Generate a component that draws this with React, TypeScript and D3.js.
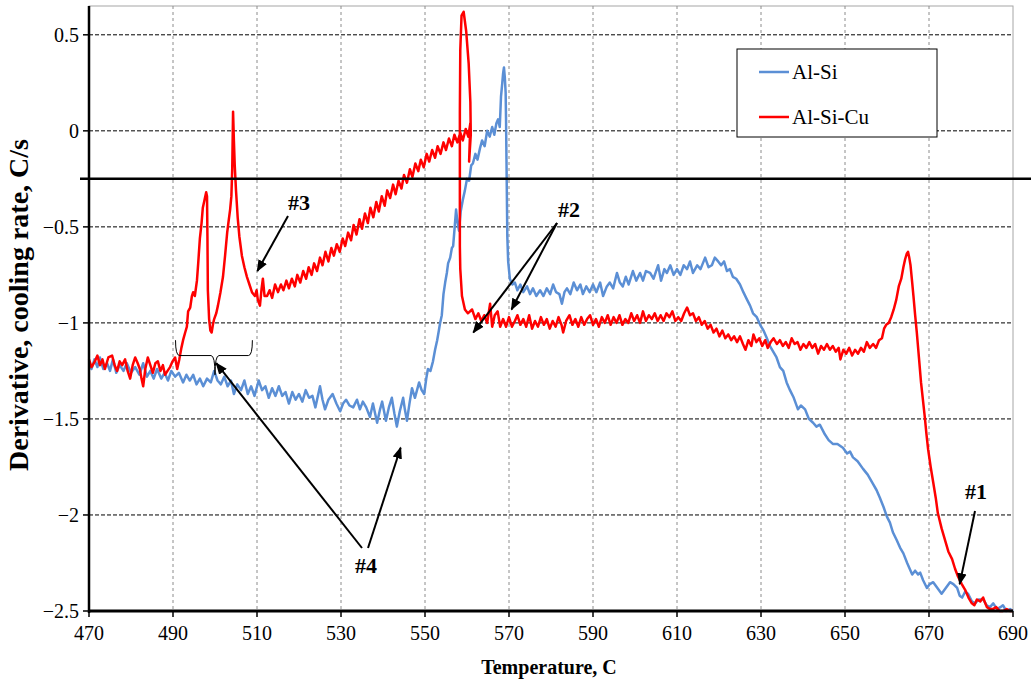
import React, { useEffect, useRef } from 'react';
import * as d3 from 'd3';

// Al-Si cooling curve derivative: [temperature C, rate C/s]
const alSi: [number, number][] = [
  [470.0,-1.21],[470.6,-1.24],[471.3,-1.19],[472.0,-1.23],[472.6,-1.18],[473.4,-1.24],[474.3,-1.21],[475.0,-1.25],[475.7,-1.19],[476.5,-1.26],
  [477.3,-1.22],[478.2,-1.25],[479.0,-1.21],[480.0,-1.26],[481.0,-1.23],[482.0,-1.27],[482.9,-1.21],[483.8,-1.28],[484.6,-1.25],[485.4,-1.29],
  [486.2,-1.24],[487.2,-1.29],[488.0,-1.26],[488.8,-1.30],[489.6,-1.25],[490.5,-1.28],[491.4,-1.26],[492.4,-1.31],[493.2,-1.27],[494.0,-1.30],
  [494.8,-1.27],[495.6,-1.32],[496.4,-1.29],[497.2,-1.33],[498.1,-1.29],[499.0,-1.31],[499.8,-1.25],[500.6,-1.30],[501.4,-1.32],[502.2,-1.28],
  [503.0,-1.33],[503.8,-1.30],[504.5,-1.37],[505.3,-1.32],[506.2,-1.35],[507.0,-1.30],[507.8,-1.37],[508.6,-1.33],[509.4,-1.38],[510.4,-1.30],
  [511.2,-1.35],[512.0,-1.33],[512.8,-1.39],[513.6,-1.34],[514.4,-1.38],[515.2,-1.33],[516.0,-1.38],[516.8,-1.36],[517.6,-1.42],[518.4,-1.36],
  [519.2,-1.40],[520.0,-1.37],[520.8,-1.41],[521.6,-1.35],[522.4,-1.39],[523.2,-1.38],[523.9,-1.44],[524.5,-1.38],[525.0,-1.33],[525.6,-1.40],
  [526.2,-1.45],[527.0,-1.40],[528.0,-1.37],[528.9,-1.42],[529.8,-1.46],[530.5,-1.42],[531.2,-1.40],[532.0,-1.43],[532.9,-1.44],[533.8,-1.40],
  [534.5,-1.45],[535.2,-1.41],[536.0,-1.44],[536.9,-1.49],[537.6,-1.42],[538.6,-1.52],[539.3,-1.45],[539.8,-1.41],[540.7,-1.51],[541.4,-1.44],
  [542.1,-1.39],[542.7,-1.47],[543.3,-1.54],[544.0,-1.46],[544.8,-1.39],[545.2,-1.45],[545.7,-1.51],[546.3,-1.42],[546.9,-1.34],[547.6,-1.39],
  [548.6,-1.31],[549.2,-1.35],[549.8,-1.37],[550.3,-1.29],[550.7,-1.24],[551.3,-1.25],[551.9,-1.20],[552.4,-1.14],[552.9,-1.09],[553.3,-1.04],
  [553.6,-1.00],[554.0,-0.96],[554.4,-0.85],[554.8,-0.79],[555.2,-0.74],[555.5,-0.69],[556.0,-0.66],[556.4,-0.61],[556.7,-0.60],[557.0,-0.52],
  [557.4,-0.41],[557.7,-0.47],[558.1,-0.52],[558.5,-0.42],[559.0,-0.36],[559.5,-0.31],[560.0,-0.25],[560.5,-0.26],[561.0,-0.18],[561.4,-0.17],
  [562.0,-0.12],[562.5,-0.15],[563.1,-0.09],[563.6,-0.05],[564.2,-0.08],[564.8,0.00],[565.4,-0.03],[566.0,0.02],[566.5,-0.02],[567.0,0.04],
  [567.4,0.06],[567.8,0.02],[568.1,0.18],[568.4,0.25],[568.6,0.30],[568.8,0.33],[569.0,0.28],[569.2,0.20],[569.3,0.05],[569.4,-0.15],
  [569.5,-0.35],[569.6,-0.55],[569.8,-0.68],[570.2,-0.77],[570.8,-0.80],[571.4,-0.79],[572.0,-0.83],[572.7,-0.80],[573.4,-0.84],[574.3,-0.81],
  [575.0,-0.85],[575.7,-0.82],[576.5,-0.86],[577.4,-0.83],[578.2,-0.86],[579.0,-0.82],[579.8,-0.85],[580.5,-0.80],[581.2,-0.84],[582.0,-0.85],
  [582.6,-0.90],[583.2,-0.84],[583.8,-0.82],[584.6,-0.85],[585.4,-0.79],[586.2,-0.83],[587.0,-0.80],[587.6,-0.85],[588.4,-0.81],[589.2,-0.84],
  [590.0,-0.80],[590.8,-0.84],[591.7,-0.79],[592.4,-0.86],[593.3,-0.81],[594.0,-0.79],[594.8,-0.82],[595.7,-0.74],[596.4,-0.79],[597.1,-0.81],
  [597.8,-0.76],[598.5,-0.80],[599.5,-0.73],[600.3,-0.78],[601.2,-0.74],[601.9,-0.78],[602.6,-0.73],[603.6,-0.74],[604.4,-0.77],[605.5,-0.70],
  [606.2,-0.78],[607.0,-0.72],[607.6,-0.74],[608.4,-0.70],[609.2,-0.75],[610.0,-0.72],[610.8,-0.75],[611.6,-0.70],[612.4,-0.72],[613.1,-0.68],
  [613.8,-0.74],[614.8,-0.70],[615.6,-0.72],[616.7,-0.66],[617.5,-0.71],[618.3,-0.70],[619.0,-0.66],[619.8,-0.68],[620.5,-0.70],[621.2,-0.68],
  [621.9,-0.73],[622.6,-0.72],[623.3,-0.76],[624.1,-0.77],[625.0,-0.80],[625.8,-0.84],[626.7,-0.88],[627.4,-0.91],[628.1,-0.95],[629.0,-0.97],
  [629.8,-1.01],[630.6,-1.04],[631.4,-1.08],[632.1,-1.12],[632.9,-1.15],[633.7,-1.18],[634.5,-1.23],[635.3,-1.25],[636.1,-1.31],[636.9,-1.35],
  [637.8,-1.39],[638.8,-1.45],[639.5,-1.43],[640.5,-1.45],[641.4,-1.50],[642.4,-1.52],[643.2,-1.54],[644.0,-1.53],[645.2,-1.58],[646.1,-1.61],
  [647.1,-1.63],[648.2,-1.63],[649.5,-1.65],[650.5,-1.68],[651.2,-1.67],[651.9,-1.70],[653.0,-1.72],[654.3,-1.76],[655.4,-1.79],[656.7,-1.84],
  [657.5,-1.87],[658.3,-1.91],[659.2,-1.96],[660.0,-2.01],[660.7,-2.04],[661.4,-2.09],[662.3,-2.13],[663.1,-2.17],[663.9,-2.20],[664.8,-2.25],
  [665.4,-2.28],[666.0,-2.31],[666.7,-2.29],[667.4,-2.31],[667.9,-2.30],[668.6,-2.34],[669.5,-2.38],[670.2,-2.36],[671.0,-2.35],[672.0,-2.38],
  [673.0,-2.41],[674.0,-2.38],[675.0,-2.35],[675.8,-2.36],[676.7,-2.38],[677.3,-2.42],[677.9,-2.43],[678.6,-2.40],[679.3,-2.41],[680.2,-2.45],
  [681.0,-2.46],[681.8,-2.44],[682.9,-2.44],[683.7,-2.47],[684.5,-2.48],[685.3,-2.46],[686.2,-2.49],[687.0,-2.48],[687.6,-2.47],[688.4,-2.50],
  [689.3,-2.49],[690.0,-2.50],
];

// Al-Si-Cu: listed along the curve (the recalescence spike near 559 C folds back)
const alSiCu: [number, number][] = [
  [470.0,-1.19],[470.6,-1.23],[471.4,-1.20],[472.0,-1.17],[472.6,-1.22],[473.2,-1.19],[473.8,-1.24],[474.6,-1.18],[475.5,-1.17],[476.1,-1.22],
  [476.7,-1.25],[477.3,-1.20],[477.9,-1.22],[478.6,-1.19],[479.2,-1.25],[479.8,-1.29],[480.4,-1.22],[481.0,-1.18],[481.6,-1.21],[482.1,-1.24],
  [482.5,-1.29],[482.9,-1.33],[483.4,-1.24],[484.0,-1.18],[484.6,-1.22],[485.2,-1.26],[485.8,-1.21],[486.4,-1.20],[487.0,-1.25],[487.6,-1.22],
  [488.1,-1.27],[488.7,-1.25],[489.3,-1.23],[489.9,-1.20],[490.5,-1.18],[491.0,-1.24],[491.5,-1.19],[492.0,-1.13],[492.4,-1.09],[492.9,-1.05],
  [493.3,-1.02],[493.6,-0.94],[494.1,-0.92],[494.5,-0.86],[494.8,-0.84],[495.2,-0.86],[495.7,-0.78],[496.0,-0.69],[496.4,-0.56],[496.8,-0.48],
  [497.1,-0.40],[497.5,-0.36],[497.9,-0.32],[498.1,-0.34],[498.2,-0.55],[498.3,-0.83],[498.6,-0.98],[498.9,-1.04],[499.2,-1.05],[499.5,-1.01],
  [499.8,-0.98],[500.3,-0.95],[500.7,-0.91],[501.3,-0.84],[501.9,-0.76],[502.4,-0.65],[502.9,-0.53],[503.3,-0.46],[503.6,-0.41],[503.9,-0.34],
  [504.1,-0.20],[504.2,-0.05],[504.3,0.10],[504.5,-0.05],[504.7,-0.18],[505.0,-0.31],[505.4,-0.45],[505.8,-0.55],[506.4,-0.65],[507.0,-0.71],
  [507.6,-0.76],[508.2,-0.80],[508.8,-0.84],[509.5,-0.86],[509.9,-0.83],[510.2,-0.88],[510.7,-0.91],[511.1,-0.82],[511.4,-0.77],[511.8,-0.86],
  [512.4,-0.86],[513.0,-0.83],[513.6,-0.87],[514.3,-0.80],[515.0,-0.84],[515.7,-0.80],[516.3,-0.83],[517.0,-0.78],[517.6,-0.82],[518.3,-0.77],
  [519.0,-0.81],[519.6,-0.75],[520.3,-0.79],[521.0,-0.73],[521.7,-0.77],[522.3,-0.71],[523.0,-0.75],[523.6,-0.69],[524.3,-0.73],[525.0,-0.66],
  [525.6,-0.70],[526.3,-0.63],[527.0,-0.68],[527.7,-0.61],[528.3,-0.65],[529.0,-0.59],[529.7,-0.63],[530.4,-0.56],[531.0,-0.60],[531.7,-0.53],
  [532.4,-0.57],[533.0,-0.49],[533.7,-0.54],[534.4,-0.46],[535.0,-0.51],[535.7,-0.43],[536.4,-0.48],[537.0,-0.40],[537.7,-0.45],[538.4,-0.37],
  [539.0,-0.42],[539.7,-0.34],[540.4,-0.39],[541.0,-0.31],[541.7,-0.35],[542.4,-0.28],[543.0,-0.33],[543.7,-0.26],[544.4,-0.30],[545.0,-0.23],
  [545.7,-0.27],[546.4,-0.20],[547.0,-0.24],[547.7,-0.17],[548.4,-0.21],[549.0,-0.15],[549.7,-0.19],[550.4,-0.12],[551.0,-0.16],[551.7,-0.10],
  [552.4,-0.14],[553.0,-0.08],[553.7,-0.12],[554.4,-0.06],[555.0,-0.10],[555.7,-0.04],[556.4,-0.08],[557.0,-0.02],[557.7,-0.06],[558.4,-0.01],
  [559.0,-0.05],[559.7,0.01],[560.3,-0.03],[560.8,0.04],[560.5,-0.16],[560.9,-0.02],[560.8,0.15],[560.4,0.35],[559.8,0.52],[559.2,0.62],
  [558.7,0.60],[558.4,0.42],[558.3,0.10],[558.3,-0.30],[558.3,-0.60],[558.4,-0.72],[558.8,-0.86],[559.5,-0.93],[560.2,-0.95],[561.2,-0.93],
  [562.0,-0.98],[562.7,-0.95],[563.4,-0.99],[564.1,-0.96],[564.8,-1.00],[565.5,-0.90],[566.0,-1.02],[566.6,-0.96],[567.3,-0.94],[567.9,-1.02],
  [568.6,-0.98],[569.3,-1.02],[570.0,-0.97],[570.7,-1.02],[571.4,-0.99],[572.0,-0.96],[572.7,-1.01],[573.4,-0.98],[574.1,-1.02],[574.8,-0.96],
  [575.5,-1.03],[576.2,-0.99],[576.9,-1.02],[577.6,-0.97],[578.3,-1.01],[579.0,-0.98],[579.7,-1.03],[580.4,-0.99],[581.1,-1.02],[581.8,-0.97],
  [582.5,-1.01],[582.9,-1.05],[583.6,-0.99],[584.4,-0.96],[585.1,-1.01],[585.8,-0.98],[586.5,-1.02],[587.2,-0.97],[587.9,-1.01],[588.6,-0.98],
  [589.3,-0.96],[590.0,-1.01],[590.7,-0.98],[591.4,-1.02],[592.1,-0.97],[592.8,-1.00],[593.5,-0.96],[594.2,-1.01],[594.9,-0.97],[595.6,-1.00],
  [596.3,-0.96],[597.0,-1.01],[597.7,-0.98],[598.4,-1.00],[599.1,-0.95],[599.8,-0.99],[600.5,-0.96],[601.2,-1.00],[601.9,-0.94],[602.6,-0.99],
  [603.3,-0.96],[604.0,-0.98],[604.7,-0.95],[605.4,-0.99],[606.1,-0.96],[606.8,-0.99],[607.5,-0.95],[608.2,-0.97],[608.9,-0.94],[609.6,-0.99],
  [610.3,-0.97],[611.0,-0.99],[611.7,-0.95],[612.4,-0.92],[613.1,-0.96],[613.8,-0.95],[614.5,-0.99],[615.2,-0.97],[615.9,-1.01],[616.6,-0.99],
  [617.3,-1.03],[618.0,-1.01],[618.7,-1.05],[619.4,-1.03],[620.1,-1.07],[620.8,-1.04],[621.5,-1.08],[622.2,-1.06],[622.9,-1.09],[623.6,-1.07],
  [624.3,-1.10],[625.0,-1.07],[625.7,-1.11],[626.3,-1.14],[627.0,-1.09],[627.7,-1.12],[628.2,-1.06],[628.9,-1.10],[629.6,-1.08],[630.3,-1.12],
  [631.0,-1.09],[631.6,-1.13],[632.3,-1.10],[633.0,-1.08],[633.8,-1.11],[634.5,-1.09],[635.2,-1.12],[635.9,-1.10],[636.6,-1.13],[637.3,-1.08],
  [638.0,-1.11],[638.7,-1.10],[639.4,-1.14],[640.1,-1.11],[640.8,-1.13],[641.5,-1.10],[642.2,-1.13],[642.9,-1.11],[643.6,-1.16],[644.3,-1.12],
  [645.0,-1.14],[645.7,-1.11],[646.4,-1.14],[647.1,-1.12],[647.8,-1.15],[648.5,-1.13],[648.9,-1.19],[649.6,-1.14],[650.3,-1.16],[651.0,-1.13],
  [651.7,-1.17],[652.4,-1.14],[653.1,-1.16],[653.8,-1.13],[654.5,-1.15],[655.2,-1.10],[655.9,-1.13],[656.7,-1.11],[657.4,-1.13],[658.1,-1.09],
  [658.8,-1.08],[659.3,-1.03],[659.8,-1.01],[660.4,-1.00],[661.0,-0.97],[661.6,-0.93],[662.2,-0.88],[662.8,-0.81],[663.4,-0.77],[663.9,-0.71],
  [664.3,-0.67],[664.7,-0.64],[665.0,-0.63],[665.3,-0.66],[665.6,-0.70],[666.0,-0.79],[666.3,-0.86],[666.7,-0.96],[667.1,-1.05],[667.6,-1.18],
  [668.1,-1.31],[668.6,-1.41],[669.0,-1.49],[669.4,-1.58],[669.8,-1.66],[670.4,-1.75],[671.0,-1.83],[671.6,-1.91],[672.1,-1.99],[673.0,-2.07],
  [673.8,-2.13],[674.6,-2.19],[675.5,-2.23],[676.2,-2.28],[676.9,-2.32],[677.8,-2.36],[678.6,-2.39],[679.4,-2.43],[680.2,-2.46],[680.8,-2.47],
  [681.4,-2.44],[682.2,-2.45],[682.9,-2.43],[683.4,-2.46],[683.8,-2.48],[684.5,-2.49],[685.2,-2.49],[686.0,-2.48],[686.8,-2.50],[687.6,-2.50],
  [688.5,-2.49],[689.3,-2.50],[690.0,-2.50],
];

const xTicks = [470, 490, 510, 530, 550, 570, 590, 610, 630, 650, 670, 690];
const yTicks = [-2.5, -2, -1.5, -1, -0.5, 0, 0.5];
const refLevel = -0.25;

const seriesNames = ['Al-Si', 'Al-Si-Cu'];
const seriesColors = ['#5b8fd5', '#ff0000'];

// annotation labels and the data points their arrows point at
const labels = ['#1', '#2', '#3', '#4'];

const App = () => {
  const svgRef = useRef<SVGSVGElement>(null);

  useEffect(() => {
    const svg = d3.select(svgRef.current);
    svg.selectAll('*').remove();

    const width = 1031;
    const height = 683;
    svg.attr('width', width).attr('height', height);

    const serif = '"Liberation Serif", "Times New Roman", serif';
    const x = d3.scaleLinear().domain([470, 690]).range([89, 1013]);
    const y = d3.scaleLinear().domain([-2.5, 0.65]).range([611, 6]);

    svg.append('rect').attr('width', width).attr('height', height).attr('fill', '#fff');

    // arrowhead
    svg.append('defs').append('marker')
      .attr('id', 'arr')
      .attr('viewBox', '0 0 10 10')
      .attr('refX', 9).attr('refY', 5)
      .attr('markerWidth', 6).attr('markerHeight', 6)
      .attr('markerUnits', 'strokeWidth')
      .attr('orient', 'auto')
      .append('path').attr('d', 'M0,1 L10,5 L0,9 Z').attr('fill', '#000');

    // plot frame
    svg.append('rect')
      .attr('x', x(470)).attr('y', y(0.65))
      .attr('width', x(690) - x(470)).attr('height', y(-2.5) - y(0.65))
      .attr('fill', 'none').attr('stroke', '#a6a6a6').attr('stroke-width', 1);

    // gridlines
    svg.append('g').selectAll('line')
      .data(xTicks.slice(1, -1))
      .enter().append('line')
      .attr('x1', d => x(d)).attr('x2', d => x(d))
      .attr('y1', y(0.65)).attr('y2', y(-2.5))
      .attr('stroke', '#8c8c8c').attr('stroke-width', 1)
      .attr('stroke-dasharray', '3,3');

    svg.append('g').selectAll('line')
      .data(yTicks.slice(1))
      .enter().append('line')
      .attr('x1', x(470)).attr('x2', x(690))
      .attr('y1', d => y(d)).attr('y2', d => y(d))
      .attr('stroke', '#000').attr('stroke-width', 1)
      .attr('stroke-dasharray', '4,2');

    // series
    const line = d3.line<[number, number]>()
      .x(d => x(d[0]))
      .y(d => y(d[1]));

    [alSi, alSiCu].forEach((data, i) => {
      svg.append('path')
        .datum(data)
        .attr('d', line)
        .attr('fill', 'none')
        .attr('stroke', seriesColors[i])
        .attr('stroke-width', 2.5)
        .attr('stroke-linejoin', 'round');
    });

    // reference line at -0.25
    svg.append('line')
      .attr('x1', 80).attr('x2', width)
      .attr('y1', y(refLevel)).attr('y2', y(refLevel))
      .attr('stroke', '#000').attr('stroke-width', 2.5);

    // axes
    svg.append('line')
      .attr('x1', x(470)).attr('x2', x(470))
      .attr('y1', y(0.65)).attr('y2', y(-2.5) + 2)
      .attr('stroke', '#000').attr('stroke-width', 2.5);
    svg.append('line')
      .attr('x1', x(470) - 1).attr('x2', x(690))
      .attr('y1', y(-2.5)).attr('y2', y(-2.5))
      .attr('stroke', '#000').attr('stroke-width', 3);

    svg.append('g').selectAll('line')
      .data(yTicks)
      .enter().append('line')
      .attr('x1', x(470) - 6).attr('x2', x(470))
      .attr('y1', d => y(d)).attr('y2', d => y(d))
      .attr('stroke', '#000').attr('stroke-width', 1.5);

    svg.append('g').selectAll('line')
      .data(xTicks)
      .enter().append('line')
      .attr('x1', d => x(d)).attr('x2', d => x(d))
      .attr('y1', y(-2.5)).attr('y2', y(-2.5) + 6)
      .attr('stroke', '#000').attr('stroke-width', 1.5);

    svg.append('g').selectAll('text')
      .data(yTicks)
      .enter().append('text')
      .attr('x', x(470) - 10)
      .attr('y', d => y(d))
      .attr('dy', '0.35em')
      .attr('text-anchor', 'end')
      .attr('font-family', serif).attr('font-size', 20)
      .text(d => d3.format('')(d));

    svg.append('g').selectAll('text')
      .data(xTicks)
      .enter().append('text')
      .attr('x', d => x(d))
      .attr('y', 640)
      .attr('text-anchor', 'middle')
      .attr('font-family', serif).attr('font-size', 20)
      .text(d => d);

    // axis titles
    svg.append('text')
      .attr('x', 549).attr('y', 674)
      .attr('text-anchor', 'middle')
      .attr('font-family', serif).attr('font-size', 20).attr('font-weight', 'bold')
      .text('Temperature, C');

    svg.append('text')
      .attr('transform', 'translate(28,305) rotate(-90)')
      .attr('text-anchor', 'middle')
      .attr('font-family', serif).attr('font-size', 28).attr('font-weight', 'bold')
      .text('Derivative, cooling rate, C/s');

    // legend
    const lg = svg.append('g').attr('transform', 'translate(737,49)');
    lg.append('rect')
      .attr('width', 200).attr('height', 88)
      .attr('fill', '#fff').attr('stroke', '#000').attr('stroke-width', 1);
    seriesNames.forEach((name, i) => {
      const ly = 23 + i * 45;
      lg.append('line')
        .attr('x1', 22).attr('x2', 52)
        .attr('y1', ly).attr('y2', ly)
        .attr('stroke', seriesColors[i]).attr('stroke-width', 2.5);
      lg.append('text')
        .attr('x', 55).attr('y', ly)
        .attr('dy', '0.35em')
        .attr('font-family', serif).attr('font-size', 21)
        .text(name);
    });

    // annotations
    const note = (label: string, tx: number, ty: number) =>
      svg.append('text')
        .attr('x', tx).attr('y', ty)
        .attr('text-anchor', 'middle')
        .attr('font-family', serif).attr('font-size', 22).attr('font-weight', 'bold')
        .text(label);
    const arrow = (x1: number, y1: number, x2: number, y2: number) =>
      svg.append('line')
        .attr('x1', x1).attr('y1', y1).attr('x2', x2).attr('y2', y2)
        .attr('stroke', '#000').attr('stroke-width', 2)
        .attr('marker-end', 'url(#arr)');

    note(labels[0], 976, 499);
    arrow(975, 511, x(677.3), y(-2.36));

    note(labels[1], 569, 217);
    arrow(557, 223, x(561.5), y(-1.05));
    arrow(557, 223, x(570.6), y(-0.93));

    note(labels[2], 299, 210);
    arrow(288, 216, x(510.1), y(-0.73));

    note(labels[3], 366, 573);
    arrow(362, 548, x(500.3), y(-1.21));
    arrow(368, 548, x(544.2), y(-1.65));

    // brace under the two Al-Si-Cu peaks
    const bl = x(490.6), bc = x(500), br = x(508.9);
    const by = y(-1.09), bm = y(-1.17), bt = y(-1.27);
    svg.append('path')
      .attr('d', `M${bl},${by} Q${bl},${bm} ${bl + 4},${bm} L${bc - 4},${bm} Q${bc},${bm} ${bc},${bt}`
        + ` Q${bc},${bm} ${bc + 4},${bm} L${br - 4},${bm} Q${br},${bm} ${br},${by}`)
      .attr('fill', 'none').attr('stroke', '#000').attr('stroke-width', 1);
  }, []);

  return (
    <div style={{ position: 'absolute', left: 0, top: 0 }}>
      <svg ref={svgRef} style={{ display: 'block' }}></svg>
    </div>
  );
};

export default App;
